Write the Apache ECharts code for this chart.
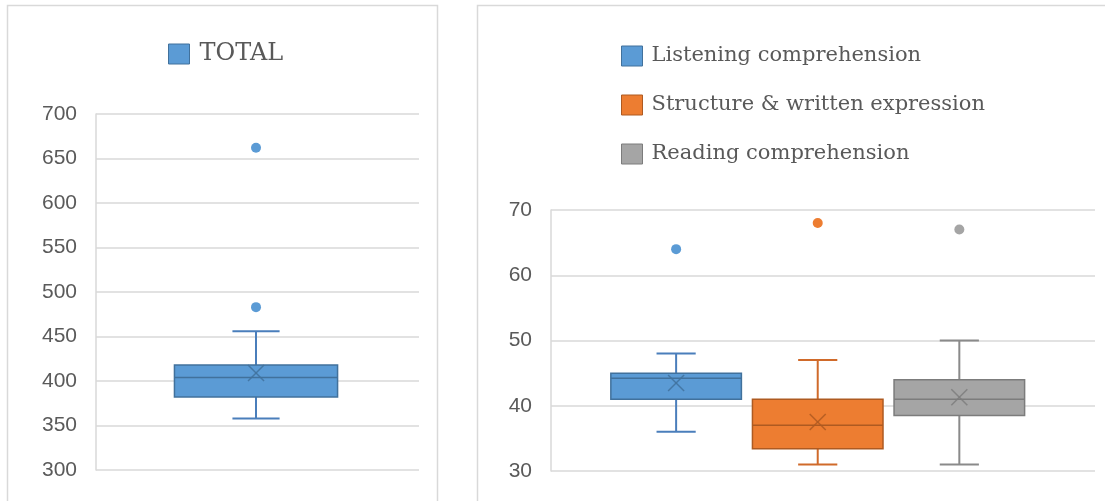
<!DOCTYPE html>
<html>
<head>
<meta charset="utf-8">
<script src="https://cdn.jsdelivr.net/npm/echarts@6/dist/echarts.min.js"></script>
<style>
html,body{margin:0;padding:0;background:#fff;}
#chart{width:1105px;height:501px;}
</style>
</head>
<body>
<div id="chart"></div>
<script>
// ---- data ----
const totalName = 'TOTAL';
const totalCategories = ['TOTAL'];
const totalBox = [358, 382, 404, 418, 456];      // min, Q1, median, Q3, max
const totalMean = 409;
const totalOutliers = [662, 483];
const totalAxis = [300, 700, 50];                 // min, max, step

const sectionNames = ['Listening comprehension', 'Structure & written expression', 'Reading comprehension'];
const sectionCategories = [''];
const listeningBox = [36, 41, 44.2, 45, 48];
const structureBox = [31, 33.4, 37, 41, 47];
const readingBox = [31, 38.5, 41, 44, 50];
const sectionMeans = [43.5, 37.5, 41.3];
const listeningOutliers = [64];
const structureOutliers = [68];
const readingOutliers = [67];
const sectionAxis = [30, 70, 10];

// ---- styles ----
const fills = ['#5B9BD5', '#ED7D31', '#A5A5A5'];
const strokes = ['#41719C', '#AE5A21', '#7C7C7C'];
const whiskers = ['#4A7EBB', '#D06A2A', '#8A8A8A'];
const grey = '#595959';
const gridColor = '#D9D9D9';

function boxRenderer(off, wFrac, capFrac, fill, stroke, whisk) {
  return function (params, api) {
    const cat = api.value(0);
    const band = api.size([1, 0])[0];
    const cx = api.coord([cat, api.value(3)])[0] + off * band;
    const y = v => api.coord([cat, v])[1];
    const yMin = y(api.value(1)), yQ1 = y(api.value(2)), yMed = y(api.value(3)),
          yQ3 = y(api.value(4)), yMax = y(api.value(5)), yMean = y(api.value(6));
    const hw = wFrac * band / 2, cw = capFrac * band / 2, m = 8;
    const ws = {stroke: whisk, lineWidth: 2};
    return {
      type: 'group',
      children: [
        {type: 'line', shape: {x1: cx, y1: yMax, x2: cx, y2: yQ3}, style: ws},
        {type: 'line', shape: {x1: cx, y1: yQ1, x2: cx, y2: yMin}, style: ws},
        {type: 'line', shape: {x1: cx - cw, y1: yMax, x2: cx + cw, y2: yMax}, style: ws},
        {type: 'line', shape: {x1: cx - cw, y1: yMin, x2: cx + cw, y2: yMin}, style: ws},
        {type: 'rect', shape: {x: cx - hw, y: yQ3, width: 2 * hw, height: yQ1 - yQ3},
          style: {fill: fill, stroke: stroke, lineWidth: 1.5}},
        {type: 'line', shape: {x1: cx - hw, y1: yMed, x2: cx + hw, y2: yMed}, style: {stroke: stroke, lineWidth: 1.5}},
        {type: 'line', shape: {x1: cx - m, y1: yMean - m, x2: cx + m, y2: yMean + m}, style: {stroke: stroke, lineWidth: 1.5, opacity: 0.85}},
        {type: 'line', shape: {x1: cx - m, y1: yMean + m, x2: cx + m, y2: yMean - m}, style: {stroke: stroke, lineWidth: 1.5, opacity: 0.85}}
      ]
    };
  };
}
function outlierRenderer(off, fill) {
  return function (params, api) {
    const cat = api.value(0);
    const band = api.size([1, 0])[0];
    const p = api.coord([cat, api.value(1)]);
    return {type: 'circle', shape: {cx: p[0] + off * band, cy: p[1], r: 5}, style: {fill: fill}};
  };
}

const axisLabelStyle = {color: '#5a5a5a', fontSize: 21, fontFamily: 'Liberation Sans', margin: 19};
function yAxis(idx, range) {
  return {
    type: 'value', gridIndex: idx, min: range[0], max: range[1], interval: range[2],
    axisLine: {show: true, lineStyle: {color: gridColor, width: 1.5}},
    axisTick: {show: false},
    splitLine: {lineStyle: {color: gridColor, width: 1.5}},
    axisLabel: axisLabelStyle
  };
}
function xAxis(idx, cats) {
  return {type: 'category', gridIndex: idx, data: cats, axisLine: {show: false},
    axisTick: {show: false}, axisLabel: {show: false}, splitLine: {show: false}};
}

const sectionBoxes = [listeningBox, structureBox, readingBox];
const sectionOutliers = [listeningOutliers, structureOutliers, readingOutliers];
const offsets = [-0.270, -0.0097, 0.2506];

const series = [
  {type: 'custom', name: totalName, xAxisIndex: 0, yAxisIndex: 0,
    renderItem: boxRenderer(-0.0046, 0.505, 0.146, fills[0], strokes[0], whiskers[0]),
    encode: {x: 0, y: [1, 2, 3, 4, 5, 6]},
    itemStyle: {color: fills[0]},
    data: [[0].concat(totalBox, [totalMean])]},
  {type: 'custom', name: totalName, xAxisIndex: 0, yAxisIndex: 0,
    renderItem: outlierRenderer(-0.0046, fills[0]),
    encode: {x: 0, y: 1},
    itemStyle: {color: fills[0]},
    data: totalOutliers.map(v => [0, v])}
];
sectionNames.forEach((n, i) => {
  series.push({type: 'custom', name: n, xAxisIndex: 1, yAxisIndex: 1,
    renderItem: boxRenderer(offsets[i], 0.240, 0.072, fills[i], strokes[i], whiskers[i]),
    encode: {x: 0, y: [1, 2, 3, 4, 5, 6]},
    itemStyle: {color: fills[i]},
    data: [[0].concat(sectionBoxes[i], [sectionMeans[i]])]});
  series.push({type: 'custom', name: n, xAxisIndex: 1, yAxisIndex: 1,
    renderItem: outlierRenderer(offsets[i], fills[i]),
    encode: {x: 0, y: 1},
    itemStyle: {color: fills[i]},
    data: sectionOutliers[i].map(v => [0, v])});
});

const chart = echarts.init(document.getElementById('chart'), null, {renderer: 'canvas'});
chart.setOption({
  animation: false,
  backgroundColor: '#fff',
  graphic: [
    {type: 'rect', left: 5, top: 3, shape: {width: 430, height: 520}, style: {fill: 'none', stroke: gridColor, lineWidth: 1.5}, z: -1},
    {type: 'rect', left: 475, top: 3, shape: {width: 700, height: 520}, style: {fill: 'none', stroke: gridColor, lineWidth: 1.5}, z: -1}
  ],
  legend: [
    {data: [{name: totalName, itemStyle: {color: fills[0], borderColor: strokes[0], borderWidth: 1}}],
      left: 168, top: 42, padding: 0, itemWidth: 21, itemHeight: 20, icon: 'rect',
      selectedMode: false,
      textStyle: {fontFamily: 'DejaVu Serif', fontSize: 24, color: grey, padding: [8, 0, 0, 5]}},
    {data: sectionNames.map((n, i) => ({name: n, itemStyle: {color: fills[i], borderColor: strokes[i], borderWidth: 1}})),
      orient: 'vertical', left: 621, top: 42, padding: 0, itemWidth: 21, itemHeight: 20, itemGap: 21, icon: 'rect',
      selectedMode: false,
      textStyle: {fontFamily: 'DejaVu Serif', fontSize: 21, lineHeight: 20, color: grey, padding: [8, 0, 0, 4]}}
  ],
  grid: [
    {left: 96, right: 686, top: 114, bottom: 31},
    {left: 551, right: 10, top: 210, bottom: 30}
  ],
  xAxis: [xAxis(0, totalCategories), xAxis(1, sectionCategories)],
  yAxis: [yAxis(0, totalAxis), yAxis(1, sectionAxis)],
  series: series
});
</script>
</body>
</html>
